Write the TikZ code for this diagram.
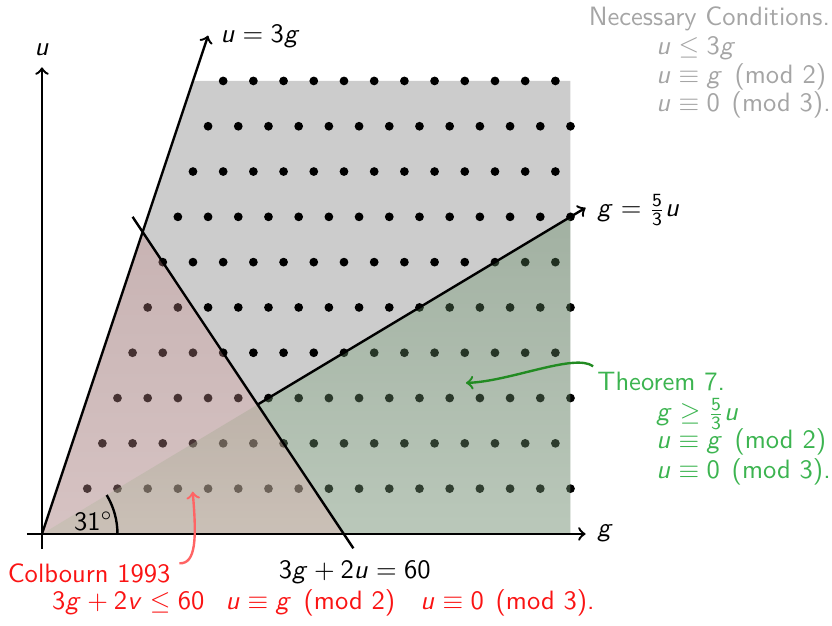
\documentclass[tikz,border=0pt]{standalone}
\usepackage{amsmath}
\renewcommand{\familydefault}{\sfdefault}
\DeclareSymbolFont{operators}{OT1}{cmss}{m}{n}
\DeclareSymbolFont{letters}{OT1}{cmss}{m}{sl}
\definecolor{ncgray}{RGB}{165,165,165}
\definecolor{thgreen}{RGB}{60,180,80}
\definecolor{argreen}{RGB}{34,139,34}
\definecolor{grtop}{RGB}{85,128,85}
\definecolor{grbot}{RGB}{153,193,153}
\definecolor{rdtop}{RGB}{192,131,131}
\definecolor{rdbot}{RGB}{237,177,177}
\definecolor{arred}{RGB}{255,100,100}
\definecolor{txred}{RGB}{250,20,20}
\begin{document}
\begin{tikzpicture}[x=0.2cm,y=0.2cm,
  axis/.style={line width=0.9pt,->},
  bline/.style={line width=0.9pt},
  lbl/.style={inner sep=0pt,anchor=base west},
  dotc/.style={fill=black}]
\useasboundingbox (-2.78,-6.09) rectangle (52.32,35.36);
% regions
\fill[black!20] (0,0) -- (10,30) -- (35,30) -- (35,0) -- cycle;
\foreach \k in {1,...,10}{
  \pgfmathtruncatemacro\gs{\k+2}
  \pgfmathtruncatemacro\gn{\k+4}
  \pgfmathtruncatemacro\gend{34+mod(\k,2)}
  \foreach \g in {\gs,\gn,...,\gend} \fill[dotc] (\g,3*\k) circle (1.65pt);
}
\shade[top color=grtop,bottom color=grbot,fill opacity=0.35] (0,0) -- (35,21) -- (35,0) -- cycle;
\shade[top color=rdtop,bottom color=rdbot,fill opacity=0.33] (0,0) -- (20/3,20) -- (20,0) -- cycle;
% lines
\coordinate (O) at (0,0);
\draw[axis] (-1,0) -- (36,0);
\draw[axis] (0,-1) -- (0,30.9);
\draw[bline,->] (O) -- (11,33);
\draw[bline,->] (100/7,60/7) -- (36,21.6);
\draw[bline] (6.0,21.0) -- (20.62,-0.95);
\draw[bline] (5,0) arc[start angle=0,end angle=31,radius=5];
% labels
\node[inner sep=0pt,anchor=base] (ulab) at (0,31.67) {$u$};
\node[lbl] (glab) at (36.75,-0.2) {$g$};
\node[lbl] (l3g) at (11.79,32.52) {$u=3g$};
\node[lbl] (l53) at (36.75,21.0) {$g=\frac{5}{3}u$};
\node[lbl] (lline) at (15.65,-2.94) {$3g+2u=60$};
\node[inner sep=0pt] (ang) at (3.41,0.86) {$31^\circ$};
% necessary conditions
\begin{scope}[ncgray]
\node[lbl] (nc) at (36.18,33.64) {Necessary Conditions.};
\node[lbl] (nc1) at (40.66,31.72) {$u\le 3g$};
\node[lbl] (nc2) at (40.66,29.83) {$u\equiv g \pmod{2}$};
\node[lbl] (nc3) at (40.66,27.97) {$u\equiv 0 \pmod{3}$.};
\end{scope}
% theorem 7
\begin{scope}[thgreen]
\node[lbl] (thm) at (36.75,9.49) {Theorem 7.};
\node[lbl] (th1) at (40.66,7.5) {$g\ge \frac{5}{3}u$};
\node[lbl] (th2) at (40.66,5.63) {$u\equiv g \pmod{2}$};
\node[lbl] (th3) at (40.66,3.69) {$u\equiv 0 \pmod{3}$.};
\end{scope}
\coordinate (thtip) at (28.08,10.0);
\draw[argreen,line width=0.9pt,->] ([shift={(-0.25,0.36)}]thm.north west) .. controls (35.3,12.0) and (31,10.1) .. (thtip);
% colbourn
\node[lbl,txred] (colb) at (-2.3,-3.22) {Colbourn 1993};
\node[lbl,txred] (cond) at (0.64,-5.03) {$3g+2v\le 60$\hspace{8pt}$u\equiv g \pmod{2}$\hspace{9.5pt}$u\equiv 0 \pmod{3}$.};
\coordinate (cotip) at (9.98,2.8);
\draw[arred,line width=0.9pt,->] ([xshift=0.55*0.2cm]colb.north east) .. controls (10.2,-2.0) and (10.25,-0.3) .. (cotip);
\end{tikzpicture}
\end{document}
